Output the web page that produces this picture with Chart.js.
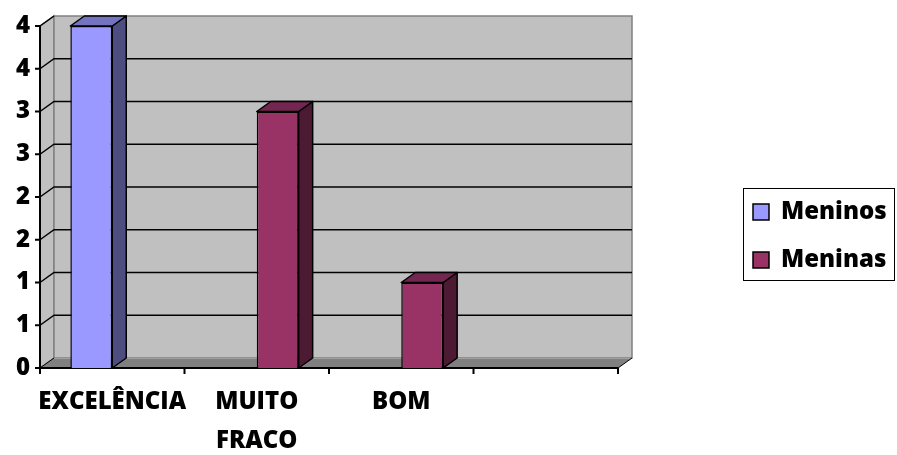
<!DOCTYPE html>
<html>
<head>
<meta charset="utf-8">
<script src="https://cdn.jsdelivr.net/npm/chart.js@4/dist/chart.umd.min.js"></script>
<style>
  body { margin: 0; background: #fff; }
  #wrap { width: 897px; height: 455px; }
</style>
</head>
<body>
<div id="wrap"><canvas id="myChart" width="897" height="455"></canvas></div>
<script>
const categories = ["EXCELÊNCIA", ["MUITO", "FRACO"], "BOM", ""];
const meninos = [4, 0, 0, 0];
const meninas = [0, 3, 1, 0];
const yTickLabels = ["0", "1", "1", "2", "2", "3", "3", "4", "4"];

const FONT = "'Open Sans', 'Liberation Sans', sans-serif";
const DX = 14;   // depth offset of the 3d box
const DY = -10;

// side and top shades for each series
const shades = [
    {front: "#9999ff", side: "#4d4d80", top: "#7373bf"},
    {front: "#993366", side: "#4d1a33", top: "#732650"}
];

const box3d = {
    id: "box3d",
    beforeDatasetsDraw(chart) {
        const ctx = chart.ctx;
        const {left, right, top, bottom} = chart.chartArea;
        const y = chart.scales.y;
        ctx.save();

        // left wall
        ctx.fillStyle = "#c0c0c0";
        ctx.beginPath();
        ctx.moveTo(left, top);
        ctx.lineTo(left + DX, top + DY);
        ctx.lineTo(left + DX, bottom + DY);
        ctx.lineTo(left, bottom);
        ctx.closePath();
        ctx.fill();
        ctx.strokeStyle = "#808080";
        ctx.lineWidth = 1.5;
        ctx.stroke();

        // back wall
        ctx.fillStyle = "#c0c0c0";
        ctx.fillRect(left + DX, top + DY, right - left, bottom - top);
        ctx.strokeRect(left + DX, top + DY, right - left, bottom - top);

        // floor
        ctx.fillStyle = "#808080";
        ctx.beginPath();
        ctx.moveTo(left, bottom);
        ctx.lineTo(left + DX, bottom + DY);
        ctx.lineTo(right + DX, bottom + DY);
        ctx.lineTo(right, bottom);
        ctx.closePath();
        ctx.fill();
        ctx.strokeStyle = "#a0a0a0";
        ctx.lineWidth = 1;
        ctx.beginPath();
        ctx.moveTo(left + DX, bottom + DY + 0.5);
        ctx.lineTo(right + DX, bottom + DY + 0.5);
        ctx.stroke();
        ctx.strokeStyle = "#000";
        ctx.beginPath();
        ctx.moveTo(right, bottom);
        ctx.lineTo(right + DX, bottom + DY);
        ctx.moveTo(left, bottom);
        ctx.lineTo(left + DX, bottom + DY);
        ctx.stroke();

        // gridlines on left and back walls
        y.ticks.forEach((t, i) => {
            if (i === 0) return;
            const py = y.getPixelForValue(t.value);
            ctx.strokeStyle = "#000";
            ctx.lineWidth = 1.5;
            ctx.beginPath();
            ctx.moveTo(left, py);
            ctx.lineTo(left + DX, py + DY);
            if (i < y.ticks.length - 1) ctx.lineTo(right + DX, py + DY);
            ctx.stroke();
        });

        // axis lines and tick marks
        ctx.strokeStyle = "#000";
        ctx.lineWidth = 2;
        ctx.beginPath();
        ctx.moveTo(left, top);
        ctx.lineTo(left, bottom);
        ctx.lineTo(right, bottom);
        y.ticks.forEach((t) => {
            const py = y.getPixelForValue(t.value);
            ctx.moveTo(left - 5, py);
            ctx.lineTo(left, py);
        });
        const n = categories.length;
        for (let i = 0; i <= n; i++) {
            const px = left + i * (right - left) / n;
            ctx.moveTo(px, bottom);
            ctx.lineTo(px, bottom + 6);
        }
        ctx.stroke();
        ctx.restore();
    },
    afterDatasetsDraw(chart) {
        const ctx = chart.ctx;
        ctx.save();
        ctx.strokeStyle = "#000";
        ctx.lineWidth = 1.5;
        ctx.lineJoin = "round";
        chart.data.datasets.forEach((ds, di) => {
            chart.getDatasetMeta(di).data.forEach((bar, i) => {
                if (!ds.data[i]) return;
                const {x, y, base, width} = bar.getProps(["x", "y", "base", "width"], true);
                const l = x - width / 2, r = x + width / 2;
                // side face
                ctx.fillStyle = shades[di].side;
                ctx.beginPath();
                ctx.moveTo(r, y);
                ctx.lineTo(r + DX, y + DY);
                ctx.lineTo(r + DX, base + DY);
                ctx.lineTo(r, base);
                ctx.closePath();
                ctx.fill();
                ctx.stroke();
                // top face
                ctx.fillStyle = shades[di].top;
                ctx.beginPath();
                ctx.moveTo(l, y);
                ctx.lineTo(l + DX, y + DY);
                ctx.lineTo(r + DX, y + DY);
                ctx.lineTo(r, y);
                ctx.closePath();
                ctx.fill();
                ctx.stroke();
            });
        });
        ctx.restore();
    },
    afterDraw(chart) {
        // legend box
        const ctx = chart.ctx;
        ctx.save();
        ctx.strokeStyle = "#000";
        ctx.lineWidth = 1;
        ctx.strokeRect(743.5, 188.5, 151, 92);
        ctx.font = "800 24px " + FONT;
        ctx.textBaseline = "middle";
        chart.data.datasets.forEach((ds, i) => {
            const cy = 212 + i * 48;
            ctx.fillStyle = ds.backgroundColor;
            ctx.fillRect(753, cy - 8, 16, 16);
            ctx.lineWidth = 1.5;
            ctx.strokeRect(753, cy - 8, 16, 16);
            ctx.fillStyle = "#000";
            ctx.fillText(ds.label, 781, cy);
        });
        ctx.restore();
    }
};

const ctx = document.getElementById("myChart").getContext("2d");
new Chart(ctx, {
    type: "bar",
    data: {
        labels: categories,
        datasets: [
            {
                label: "Meninos",
                data: meninos,
                backgroundColor: shades[0].front,
                borderColor: "#000",
                borderWidth: 1.5
            },
            {
                label: "Meninas",
                data: meninas,
                backgroundColor: shades[1].front,
                borderColor: "#000",
                borderWidth: 1.5
            }
        ]
    },
    options: {
        responsive: false,
        animation: false,
        events: [],
        layout: {
            padding: {top: 26, right: 279, left: 0, bottom: 0}
        },
        datasets: {
            bar: {categoryPercentage: 0.58, barPercentage: 1}
        },
        plugins: {
            legend: {display: false},
            tooltip: {enabled: false}
        },
        scales: {
            x: {
                grid: {display: false, drawTicks: false},
                border: {display: false},
                ticks: {
                    color: "#000",
                    padding: 15,
                    maxRotation: 0,
                    autoSkip: false,
                    font: {family: FONT, size: 24, weight: 800, lineHeight: 1.62}
                },
                afterFit(scale) { scale.height = 87; }
            },
            y: {
                min: 0,
                max: 4,
                grid: {display: false, drawTicks: false},
                border: {display: false},
                ticks: {
                    stepSize: 0.5,
                    color: "#000",
                    padding: 10,
                    font: {family: FONT, size: 24, weight: 800},
                    callback: (value, index) => yTickLabels[index]
                },
                afterFit(scale) { scale.width = 40; }
            }
        }
    },
    plugins: [box3d]
});
</script>
</body>
</html>
